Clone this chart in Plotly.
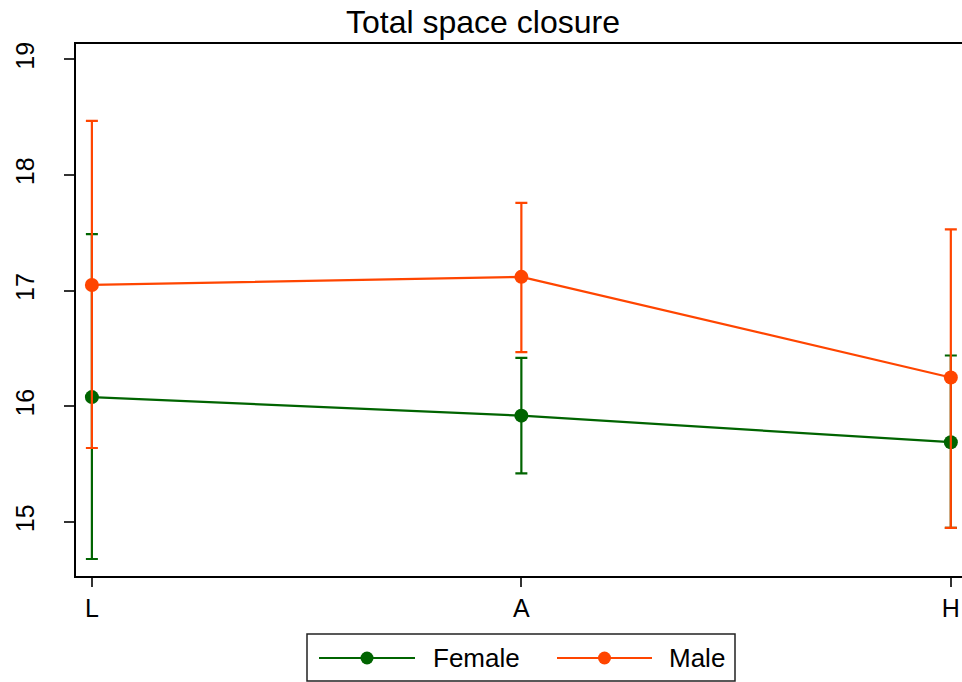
import plotly.graph_objects as go

# Group means with 95% confidence limits at each level
levels = ["L", "A", "H"]
female_mean = [16.08, 15.92, 15.69]
female_lo = [14.68, 15.42, 14.95]
female_hi = [17.49, 16.42, 16.44]
male_mean = [17.05, 17.12, 16.25]
male_lo = [15.64, 16.47, 14.95]
male_hi = [18.47, 17.76, 17.53]
y_ticks = [15, 16, 17, 18, 19]

GREEN = "#006400"
ORANGE = "#FF4500"
FONT = "Liberation Sans, Arial, sans-serif"

W, H = 962, 682
L_PX, R_PX, T_PX, B_PX = 76, 962, 44, 576


def px_x(p):
    return (p - L_PX) / (R_PX - L_PX)


def px_y(p):
    return (B_PX - p) / (B_PX - T_PX)


def series(name, mean, lo, hi, color):
    return go.Scatter(
        x=levels, y=mean, name=name, mode="lines+markers",
        line=dict(color=color, width=2.2),
        marker=dict(color=color, size=14),
        error_y=dict(
            type="data", symmetric=False,
            array=[h - m for h, m in zip(hi, mean)],
            arrayminus=[m - l for m, l in zip(mean, lo)],
            color=color, thickness=2.2, width=6,
        ),
        showlegend=False,
    )


fig = go.Figure()
fig.add_trace(series("Female", female_mean, female_lo, female_hi, GREEN))
fig.add_trace(series("Male", male_mean, male_lo, male_hi, ORANGE))

# Legend box drawn below the plot area
shapes = [
    dict(type="rect", xref="paper", yref="paper",
         x0=px_x(307), x1=px_x(735), y0=px_y(681), y1=px_y(634),
         line=dict(color="#222", width=1.5), fillcolor="white"),
]
annotations = []
for (x0, x1, tx, label, color) in [
    (319, 415, 431, "Female", GREEN),
    (557, 652, 667, "Male", ORANGE),
]:
    yc = px_y(658)
    shapes.append(dict(type="line", xref="paper", yref="paper",
                       x0=px_x(x0), x1=px_x(x1), y0=yc, y1=yc,
                       line=dict(color=color, width=2.2)))
    cx = px_x((x0 + x1) / 2)
    shapes.append(dict(type="circle", xref="paper", yref="paper",
                       xsizemode="pixel", ysizemode="pixel",
                       xanchor=cx, yanchor=yc,
                       x0=-6.5, x1=6.5, y0=-6.5, y1=6.5,
                       fillcolor=color, line=dict(color=color, width=0)))
    annotations.append(dict(xref="paper", yref="paper", x=px_x(tx), y=yc,
                            text=label, showarrow=False, xanchor="left",
                            yanchor="middle",
                            font=dict(family=FONT, size=26, color="black")))

fig.update_layout(
    width=W, height=H,
    margin=dict(l=L_PX, r=W - R_PX, t=T_PX, b=H - B_PX, pad=0),
    paper_bgcolor="white", plot_bgcolor="white",
    font=dict(family=FONT, size=25, color="black"),
    title=dict(text="Total space closure", x=483 / W, xanchor="center",
               y=1 - 22 / H, yanchor="middle",
               font=dict(family=FONT, size=32, color="black")),
    shapes=shapes, annotations=annotations,
    showlegend=False,
)
fig.update_xaxes(
    type="category", range=[-0.037, 2.026],
    showline=True, linecolor="black", linewidth=2, mirror=True,
    showgrid=False, zeroline=False,
    ticks="outside", ticklen=9, tickwidth=1.5, tickcolor="#333",
    tickfont=dict(family=FONT, size=25, color="black"),
    ticklabelstandoff=0,
)
fig.update_yaxes(
    range=[14.533, 19.134],
    tickvals=y_ticks,
    showline=True, linecolor="black", linewidth=2,
    showgrid=False, zeroline=False,
    ticks="outside", ticklen=10, tickwidth=1.5, tickcolor="#333",
    tickangle=-90,
    tickfont=dict(family=FONT, size=25, color="black"),
    ticklabelstandoff=20,
)

fig.write_html("out.html")
